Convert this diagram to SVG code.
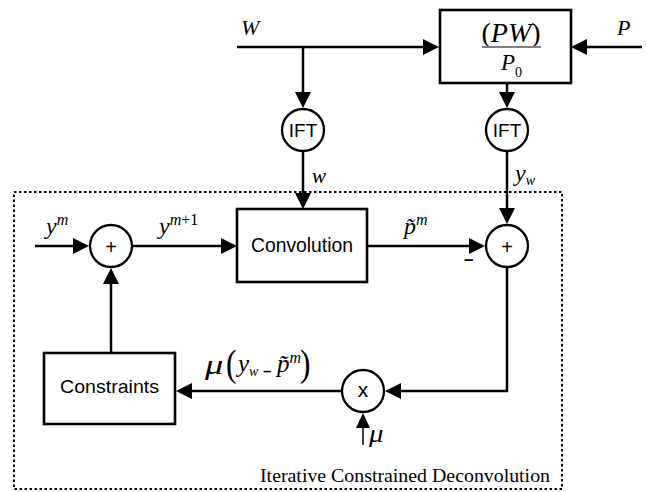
<svg xmlns="http://www.w3.org/2000/svg" width="647" height="492" viewBox="0 0 647 492">
<style>
.ln{fill:none;stroke:#000;stroke-width:2.5}
.bx{fill:#fff;stroke:#000;stroke-width:2.6}
.cr{fill:#fff;stroke:#000;stroke-width:2.3}
.sans{font-family:"Liberation Sans",Arial,sans-serif;fill:#000}
.ser{font-family:"Liberation Serif","Times New Roman",serif;fill:#000}
.it{font-family:"Liberation Serif","Times New Roman",serif;font-style:italic;fill:#000}
.up{font-style:normal}
</style>
<defs>
<marker id="arr" markerUnits="userSpaceOnUse" viewBox="0 0 16 16" markerWidth="16" markerHeight="16" refX="12" refY="8" orient="auto">
<path d="M0,0 L16,8 L0,16 z" fill="#000"/>
</marker>
<marker id="arrS" markerUnits="userSpaceOnUse" viewBox="0 0 15 14" markerWidth="15" markerHeight="14" refX="11" refY="7" orient="auto">
<path d="M0,0 L15,7 L0,14 z" fill="#000"/>
</marker>
</defs>
<rect id="frame" x="14" y="192" width="548" height="297" fill="none" stroke="#000" stroke-width="2" stroke-dasharray="2.5,2.5"/>
<g id="connectors">
<path class="ln" d="M237,47 H435" marker-end="url(#arr)"/>
<path class="ln" d="M303,47 V104" marker-end="url(#arr)"/>
<path class="ln" d="M642,47 H575" marker-end="url(#arr)"/>
<path class="ln" d="M507,83 V104" marker-end="url(#arr)"/>
<path class="ln" d="M303,152 V205" marker-end="url(#arr)"/>
<path class="ln" d="M507,152 V220" marker-end="url(#arr)"/>
<path class="ln" d="M35,246 H85" marker-end="url(#arr)"/>
<path class="ln" d="M133,246 H233" marker-end="url(#arr)"/>
<path class="ln" d="M367,246 H481" marker-end="url(#arr)"/>
<path class="ln" d="M507,268 V391 H389" marker-end="url(#arr)"/>
<path class="ln" d="M342,391 H180" marker-end="url(#arr)"/>
<path class="ln" d="M111,353 V272" marker-end="url(#arr)"/>
<path class="ln" style="stroke-width:1.5" d="M363,445 V417" marker-end="url(#arrS)"/>
</g>
<g id="labels">
<text class="it" x="241" y="35" font-size="22">W</text>
<text class="it" x="617" y="35" font-size="22">P</text>
<text class="it" x="312" y="183" font-size="21">w</text>
<text class="it" x="515" y="181" font-size="24">y<tspan font-size="14" dy="4">w</tspan></text>
<text class="it" x="46" y="234" font-size="24">y<tspan font-size="16" dy="-9">m</tspan></text>
<text class="it" x="159" y="234" font-size="24">y<tspan font-size="16" dy="-9">m</tspan><tspan class="up" font-size="16">+1</tspan></text>
<text class="it" x="404" y="234" font-size="24">p̃<tspan font-size="16" dy="-9">m</tspan></text>
<text class="sans" x="464" y="265" font-size="17" font-weight="bold">–</text>
<g id="mulabel">
<text class="it" transform="translate(205,374) scale(1.3,1)" font-size="28">μ</text>
<text class="ser" transform="translate(226,376) scale(0.85,1)" font-size="37">(</text>
<text class="it" x="238" y="372" font-size="25">y<tspan font-size="14" dy="4">w</tspan></text>
<text class="sans" x="263" y="376" font-size="15" font-weight="bold">–</text>
<text class="it" x="277" y="372" font-size="25">p̃<tspan font-size="16" dy="-9">m</tspan></text>
<text class="ser" transform="translate(300,376) scale(0.85,1)" font-size="37">)</text>
</g>
<text class="it" transform="translate(369,442) scale(1.15,1)" font-size="25">μ</text>
<text class="ser" x="260" y="482" font-size="19" textLength="290" lengthAdjust="spacingAndGlyphs">Iterative Constrained Deconvolution</text>
</g>
<g id="node-fraction">
<rect class="bx" x="440" y="10" width="131" height="73"/>
<text class="it" x="511" y="42" font-size="28" text-anchor="middle"><tspan class="up">(</tspan>PW<tspan class="up">)</tspan></text>
<line x1="482" y1="47" x2="541" y2="47" stroke="#7f7f7f" stroke-width="2"/>
<text class="it" x="501" y="70" font-size="23">P</text>
<text class="ser" x="515" y="77" font-size="14">0</text>
</g>
<g id="node-ift-w">
<circle class="cr" cx="303" cy="130" r="21"/>
<text class="sans" x="303" y="137" font-size="19" text-anchor="middle">IFT</text>
</g>
<g id="node-ift-yw">
<circle class="cr" cx="507" cy="130" r="21"/>
<text class="sans" x="507" y="137" font-size="19" text-anchor="middle">IFT</text>
</g>
<g id="node-sum1">
<circle class="cr" cx="111" cy="246" r="21"/>
<text class="sans" x="111" y="254" font-size="20" text-anchor="middle">+</text>
</g>
<g id="node-convolution">
<rect class="bx" x="237" y="209" width="130" height="73"/>
<text class="sans" x="251" y="252" font-size="20" textLength="102" lengthAdjust="spacingAndGlyphs">Convolution</text>
</g>
<g id="node-sum2">
<circle class="cr" cx="507" cy="246" r="21"/>
<text class="sans" x="507" y="254" font-size="20" text-anchor="middle">+</text>
</g>
<g id="node-mult">
<circle class="cr" cx="363" cy="391" r="21"/>
<text class="sans" x="363" y="397" font-size="21" text-anchor="middle">x</text>
</g>
<g id="node-constraints">
<rect class="bx" x="44" y="353" width="131" height="71"/>
<text class="sans" x="60" y="393" font-size="19" textLength="99" lengthAdjust="spacingAndGlyphs">Constraints</text>
</g>
</svg>
